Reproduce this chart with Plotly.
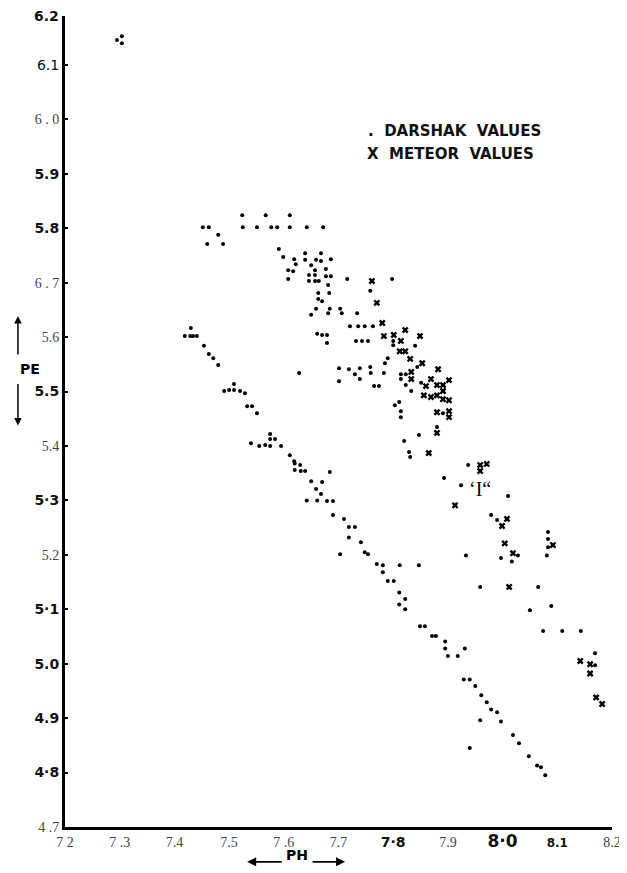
import plotly.graph_objects as go

# ---- Darshak values (dots) ----
darshak_ph = [
    7.295, 7.304, 7.304,
    7.452, 7.463, 7.480, 7.460, 7.489, 7.524, 7.567, 7.611, 7.525, 7.551, 7.577, 7.588,
    7.611, 7.642, 7.672, 7.591, 7.599, 7.619, 7.622, 7.639, 7.639, 7.668, 7.659, 7.668,
    7.686, 7.650, 7.608, 7.617, 7.657, 7.677, 7.646, 7.657, 7.677, 7.686, 7.608, 7.646,
    7.657, 7.664, 7.681, 7.716, 7.798, 7.663, 7.683, 7.758, 7.663, 7.670, 7.659, 7.650,
    7.684, 7.703, 7.706, 7.681, 7.734, 7.721, 7.736, 7.748, 7.763, 7.661, 7.670, 7.679,
    7.679, 7.732, 7.743, 7.754, 7.628, 7.701, 7.719, 7.739, 7.758, 7.730, 7.759, 7.701,
    7.739, 7.765, 7.774, 7.783, 7.790, 7.785, 7.800, 7.800, 7.840, 7.844, 7.814, 7.823,
    7.814, 7.823, 7.851, 7.833, 7.803, 7.811, 7.814, 7.814, 7.820, 7.847, 7.880, 7.891,
    7.829, 7.831, 7.937, 7.893, 7.924, 8.010, 7.979, 7.990, 8.028, 7.997, 8.017, 7.933,
    7.847, 7.812, 7.959, 8.065, 8.089, 8.050, 8.074, 8.109, 8.143, 8.169, 8.169, 8.083,
    8.083, 8.083, 8.081,
    7.430, 7.419, 7.429, 7.434, 7.441, 7.454, 7.463, 7.471, 7.480, 7.509, 7.491, 7.500,
    7.509, 7.520, 7.529, 7.533, 7.542, 7.551, 7.575, 7.575, 7.584, 7.540, 7.555, 7.566,
    7.575, 7.595, 7.611, 7.619, 7.620, 7.630, 7.620, 7.631, 7.639, 7.684, 7.650, 7.670,
    7.659, 7.668, 7.642, 7.661, 7.679, 7.690, 7.690, 7.710, 7.719, 7.730, 7.719, 7.703,
    7.741, 7.748, 7.754, 7.770, 7.781, 7.781, 7.790, 7.801, 7.811, 7.822, 7.811, 7.822,
    7.849, 7.858, 7.871, 7.878, 7.895, 7.895, 7.931, 7.900, 7.918, 7.929, 7.940, 7.950,
    7.961, 7.971, 7.979, 7.990, 7.959, 7.997, 8.019, 8.030, 7.940, 8.048, 8.063, 8.070,
    8.078,
]
darshak_pe = [
    6.146, 6.153, 6.140,
    5.802, 5.802, 5.788, 5.771, 5.771, 5.824, 5.824, 5.824, 5.802, 5.802, 5.802, 5.802,
    5.802, 5.802, 5.802, 5.762, 5.747, 5.743, 5.734, 5.754, 5.742, 5.754, 5.742, 5.740,
    5.743, 5.732, 5.723, 5.721, 5.723, 5.725, 5.714, 5.714, 5.712, 5.712, 5.707, 5.703,
    5.703, 5.703, 5.696, 5.707, 5.707, 5.681, 5.681, 5.685, 5.670, 5.666, 5.652, 5.641,
    5.652, 5.652, 5.644, 5.644, 5.644, 5.620, 5.620, 5.620, 5.620, 5.606, 5.604, 5.604,
    5.589, 5.593, 5.593, 5.593, 5.534, 5.543, 5.541, 5.543, 5.545, 5.532, 5.534, 5.519,
    5.523, 5.510, 5.510, 5.534, 5.561, 5.552, 5.593, 5.585, 5.584, 5.545, 5.532, 5.532,
    5.523, 5.512, 5.516, 5.501, 5.475, 5.481, 5.464, 5.453, 5.409, 5.420, 5.435, 5.460,
    5.389, 5.380, 5.365, 5.341, 5.328, 5.308, 5.273, 5.264, 5.199, 5.194, 5.188, 5.199,
    5.181, 5.181, 5.141, 5.141, 5.106, 5.098, 5.060, 5.060, 5.060, 5.019, 4.997, 5.242,
    5.229, 5.214, 5.199,
    5.617, 5.602, 5.602, 5.602, 5.602, 5.584, 5.569, 5.561, 5.549, 5.514, 5.501, 5.503,
    5.503, 5.501, 5.497, 5.473, 5.473, 5.460, 5.422, 5.413, 5.413, 5.405, 5.400, 5.402,
    5.400, 5.400, 5.383, 5.372, 5.368, 5.365, 5.356, 5.354, 5.354, 5.352, 5.335, 5.334,
    5.321, 5.312, 5.300, 5.300, 5.299, 5.299, 5.273, 5.266, 5.251, 5.251, 5.232, 5.201,
    5.223, 5.205, 5.201, 5.183, 5.181, 5.168, 5.152, 5.152, 5.131, 5.119, 5.109, 5.100,
    5.069, 5.069, 5.051, 5.051, 5.041, 5.028, 5.028, 5.014, 5.014, 4.971, 4.971, 4.959,
    4.942, 4.929, 4.916, 4.911, 4.896, 4.894, 4.869, 4.854, 4.845, 4.830, 4.813, 4.810,
    4.795,
]

# ---- Meteor values (X) ----
meteor_ph = [
    7.761, 7.770, 7.780, 7.783, 7.801, 7.814, 7.822, 7.849, 7.812, 7.822, 7.831, 7.853,
    7.833, 7.833, 7.882, 7.869, 7.880, 7.891, 7.902, 7.860, 7.856, 7.869, 7.880, 7.891,
    7.891, 7.902, 7.880, 7.902, 7.902, 7.880, 7.865, 7.959, 7.971, 7.959, 7.913, 8.008,
    7.999, 8.004, 8.019, 8.092, 8.012, 8.142, 8.160, 8.160, 8.171, 8.182,
]
meteor_pe = [
    5.703, 5.663, 5.626, 5.602, 5.604, 5.593, 5.613, 5.602, 5.574, 5.574, 5.560, 5.552,
    5.536, 5.523, 5.541, 5.523, 5.512, 5.512, 5.521, 5.510, 5.493, 5.490, 5.493, 5.501,
    5.486, 5.484, 5.462, 5.464, 5.453, 5.424, 5.387, 5.365, 5.367, 5.354, 5.291, 5.266,
    5.253, 5.221, 5.203, 5.218, 5.141, 5.005, 4.999, 4.982, 4.938, 4.926,
]

# ---- tick labels (as printed on the scanned chart) ----
SERIF = "font-family:Liberation Serif;color:#444"
SANS = "font-family:DejaVu Sans;color:#111"
x_tickvals = [7.2, 7.3, 7.4, 7.5, 7.6, 7.7, 7.8, 7.9, 8.0, 8.1, 8.2]
x_ticktext = [
    f"<span style='{SERIF}'>7 2</span>",
    f"<span style='{SERIF}'>7 .3</span>",
    f"<span style='{SERIF}'>7.4</span>",
    f"<span style='{SERIF}'>7.5</span>",
    f"<span style='{SERIF}'>7 .6</span>",
    f"<span style='{SERIF}'>7.7</span>",
    f"<span style='{SANS}'><b>7·8</b></span>",
    f"<span style='{SERIF}'>7.9</span>",
    f"<span style='{SANS};font-size:17px'><b>8·0</b></span>",
    f"<span style='{SANS};font-size:12px'><b>8.1</b></span>",
    f"<span style='{SERIF}'>8.2</span>",
]
y_tickvals = [4.7, 4.8, 4.9, 5.0, 5.1, 5.2, 5.3, 5.4, 5.5, 5.6, 5.7, 5.8, 5.9, 6.0, 6.1]
y_ticktext = [
    f"<span style='{SERIF}'>4 .7</span>",
    f"<span style='{SANS}'><b>4·8</b></span>",
    f"<span style='{SANS}'><b>4.9</b></span>",
    f"<span style='{SANS}'><b>5.0</b></span>",
    f"<span style='{SANS}'><b>5·1</b></span>",
    f"<span style='{SERIF}'>5.2</span>",
    f"<span style='{SANS}'><b>5·3</b></span>",
    f"<span style='{SERIF}'>5.4</span>",
    f"<span style='{SANS}'><b>5.5</b></span>",
    f"<span style='{SERIF}'>5.6</span>",
    f"<span style='{SERIF}'>6 . 7</span>",
    f"<span style='{SANS}'><b>5.8</b></span>",
    f"<span style='{SANS}'><b>5.9</b></span>",
    f"<span style='{SERIF}'>6 . 0</span>",
    f"<span style='{SANS}'>6.1</span>",
]
y_top_label = "6.2"

fig = go.Figure()
fig.add_trace(go.Scatter(
    x=darshak_ph, y=darshak_pe, mode="markers", name="DARSHAK VALUES",
    marker=dict(symbol="circle", size=4, color="black"),
))
fig.add_trace(go.Scatter(
    x=meteor_ph, y=meteor_pe, mode="markers", name="METEOR VALUES",
    marker=dict(symbol="x", size=6, color="black"),
))

# page body adds an 8px offset, so the figure is 8px smaller than the window
fig.update_layout(
    width=619, height=865,
    margin=dict(l=57, r=15, t=8, b=46),
    paper_bgcolor="white", plot_bgcolor="white",
    showlegend=False,
    font=dict(family="Liberation Serif", size=14, color="black"),
    xaxis=dict(
        range=[7.2, 8.2], tickvals=x_tickvals, ticktext=x_ticktext, automargin=False,
        showgrid=False, zeroline=False, showline=True, linecolor="black", linewidth=3,
        ticks="", tickfont=dict(size=14),
    ),
    yaxis=dict(
        range=[4.7, 6.19], tickvals=y_tickvals, ticktext=y_ticktext, automargin=False,
        showgrid=False, zeroline=False, showline=True, linecolor="black", linewidth=3,
        ticks="inside", ticklen=3, tickwidth=2, tickcolor="black", tickfont=dict(size=14),
    ),
)

# top axis label (the printed "6.2" sits at the very top of the axis)
fig.add_annotation(xref="paper", yref="paper", x=0, y=1.0, xanchor="right", yanchor="middle",
                   xshift=-4, text=f"<b>{y_top_label}</b>", showarrow=False,
                   font=dict(family="DejaVu Sans", size=14, color="#111"))

# legend text
fig.add_annotation(xref="paper", yref="paper", x=0.551, y=0.858, xanchor="left", yanchor="middle",
                   text="<b>.  DARSHAK  VALUES</b>", showarrow=False,
                   font=dict(family="DejaVu Sans", size=15, color="#111"))
fig.add_annotation(xref="paper", yref="paper", x=0.548, y=0.830, xanchor="left", yanchor="middle",
                   text="<b>X  METEOR  VALUES</b>", showarrow=False,
                   font=dict(family="DejaVu Sans", size=15, color="#111"))

# PE label with arrows
fig.add_annotation(xref="paper", yref="paper", x=-0.086, y=0.565, text="<b>PE</b>", showarrow=False,
                   font=dict(family="DejaVu Sans", size=14, color="black"))
fig.add_annotation(xref="paper", yref="paper", x=-0.086, y=0.630, ax=0, ay=40, text="",
                   showarrow=True, arrowhead=2, arrowsize=1, arrowwidth=1.5, arrowcolor="black")
fig.add_annotation(xref="paper", yref="paper", x=-0.086, y=0.495, ax=0, ay=-43, text="",
                   showarrow=True, arrowhead=2, arrowsize=1, arrowwidth=1.5, arrowcolor="black")

# PH label with arrows
fig.add_annotation(xref="paper", yref="paper", x=0.424, y=-0.047, text="<b>PH</b>", showarrow=False,
                   font=dict(family="DejaVu Sans", size=14, color="black"))
fig.add_annotation(xref="paper", yref="paper", x=0.333, y=-0.043, ax=36, ay=0, text="",
                   showarrow=True, arrowhead=2, arrowsize=1, arrowwidth=1.8, arrowcolor="black")
fig.add_annotation(xref="paper", yref="paper", x=0.512, y=-0.043, ax=-34, ay=0, text="",
                   showarrow=True, arrowhead=2, arrowsize=1, arrowwidth=1.8, arrowcolor="black")

# stray mark printed in the chart
fig.add_annotation(xref="paper", yref="paper", x=0.782, y=0.417, text="‘I“", showarrow=False,
                   font=dict(family="Liberation Serif", size=20, color="black"))

fig.write_html("out.html")
